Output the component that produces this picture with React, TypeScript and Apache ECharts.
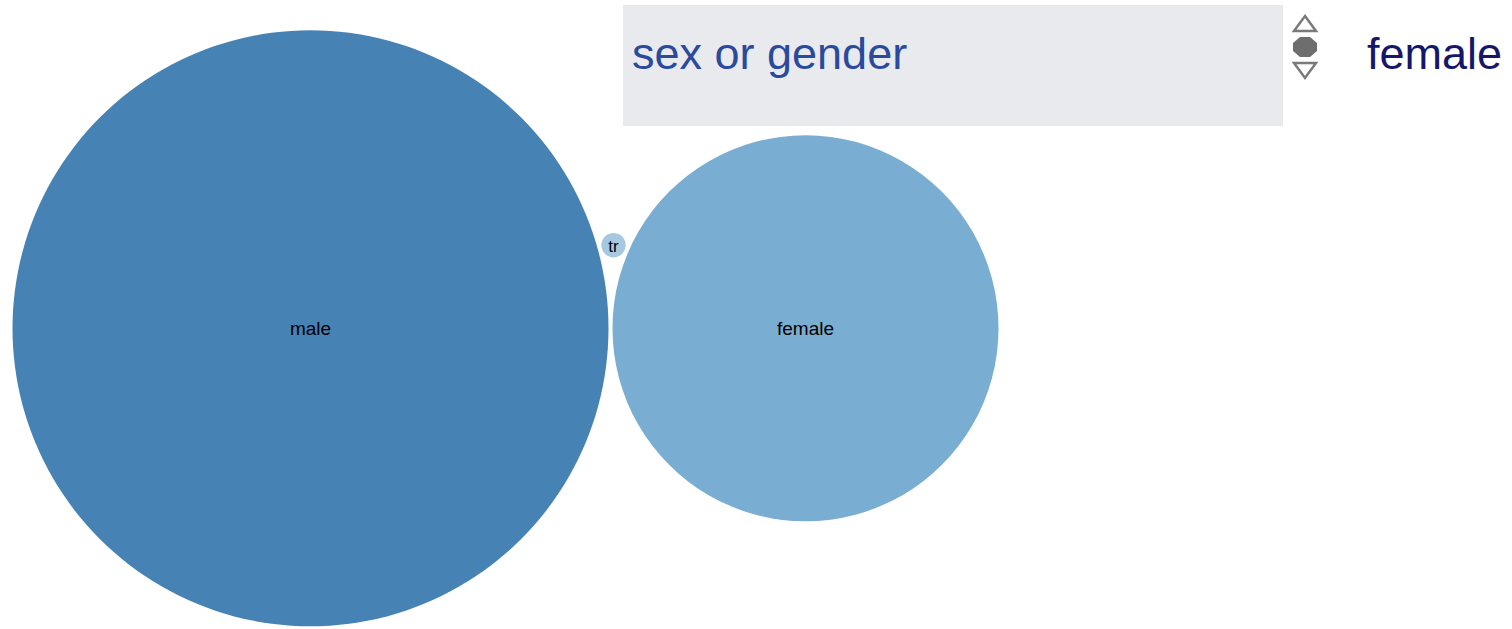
import React, { useEffect, useRef } from "react";
import * as echarts from "echarts";

// ---- data ----
const categories: string[] = ["male", "female", "tr"];
const counts: number[] = [2980, 1250, 5];
const bubbleColors: string[] = ["#4682B4", "#7AADD2", "#A6C8E1"];
const propertyLabel = "sex or gender";
const selectedValue = "female";

// ---- layout constants (pixels) ----
const W = 1512;
const H = 629;
const LARGEST_RADIUS_PX = 298;
const CENTER_X_PX = 310.5;
const CENTER_Y_PX = 328.3;
const PADDING_PX = 4;
const FONT = "'Liberation Sans', Arial, Helvetica, sans-serif";

function packLayout() {
  const maxV = Math.max(...counts);
  const k = LARGEST_RADIUS_PX / Math.sqrt(maxV); // px per unit
  const pad = PADDING_PX / k;
  const r = counts.map((v) => Math.sqrt(v));
  // largest at origin, second tangent on the right, third tangent to both (above)
  const rm = r[0], rf = r[1], rt = r[2];
  const d = rm + rf + pad;
  const a = rm + rt + pad;
  const b = rf + rt + pad;
  const tx = (a * a - b * b + d * d) / (2 * d);
  const ty = Math.sqrt(Math.max(a * a - tx * tx, 0));
  const centers: [number, number][] = [
    [0, 0],
    [d, 0],
    [tx, ty],
  ];
  return { k, r, centers };
}

export default function App() {
  const ref = useRef<HTMLDivElement>(null);
  useEffect(() => {
    if (!ref.current) return;
    const chart = echarts.init(ref.current, undefined, { renderer: "svg" });
    const { k, r, centers } = packLayout();
    const data = categories.map((name, i) => [centers[i][0], centers[i][1], r[i], i]);
    const labelSizes = [19, 19, 17];

    chart.setOption({
      animation: false,
      grid: { left: 0, right: 0, top: 0, bottom: 0, containLabel: false },
      xAxis: {
        type: "value",
        show: false,
        min: -CENTER_X_PX / k,
        max: (W - CENTER_X_PX) / k,
      },
      yAxis: {
        type: "value",
        show: false,
        min: -(H - CENTER_Y_PX) / k,
        max: CENTER_Y_PX / k,
      },
      series: [
        {
          type: "custom",
          clip: false,
          data,
          renderItem: (params: any, api: any) => {
            const idx = api.value(3);
            const c = api.coord([api.value(0), api.value(1)]);
            const s = api.size([api.value(2), api.value(2)]);
            const rad = s[0];
            return {
              type: "group",
              children: [
                {
                  type: "circle",
                  shape: { cx: c[0], cy: c[1], r: rad },
                  style: { fill: bubbleColors[idx] },
                },
                {
                  type: "text",
                  style: {
                    text: categories[idx],
                    x: c[0],
                    y: c[1] + (idx === 2 ? 1.5 : 0),
                    align: "center",
                    verticalAlign: "middle",
                    fill: "#000",
                    fontSize: labelSizes[idx],
                    fontFamily: FONT,
                  },
                },
              ],
            };
          },
        },
      ],
      graphic: [
        {
          type: "rect",
          shape: { x: 623, y: 5, width: 660, height: 121 },
          style: { fill: "#E9EAEE" },
        },
        {
          type: "text",
          style: {
            text: propertyLabel,
            x: 632,
            y: 76,
            verticalAlign: "bottom",
            fill: "#2A4A9E",
            fontSize: 45,
            fontFamily: FONT,
          },
        },
        {
          type: "polygon",
          shape: { points: [[1305, 16], [1316, 31], [1294, 31]] },
          style: { fill: "#fff", stroke: "#7A7A7A", lineWidth: 2.5 },
        },
        {
          type: "polygon",
          shape: {
            points: [
              [1300, 37], [1310, 37], [1317, 43], [1317, 51],
              [1310, 57], [1300, 57], [1293, 51], [1293, 43],
            ],
          },
          style: { fill: "#6E6E6E" },
        },
        {
          type: "polygon",
          shape: { points: [[1294, 63], [1316, 63], [1305, 78]] },
          style: { fill: "#fff", stroke: "#7A7A7A", lineWidth: 2.5 },
        },
        {
          type: "text",
          style: {
            text: selectedValue,
            x: 1367,
            y: 76,
            verticalAlign: "bottom",
            fill: "#16166B",
            fontSize: 45,
            fontFamily: FONT,
          },
        },
      ],
    });
    return () => chart.dispose();
  }, []);

  return (
    <div
      ref={ref}
      style={{ position: "fixed", left: 0, top: 0, width: W, height: H, background: "#fff" }}
    />
  );
}
